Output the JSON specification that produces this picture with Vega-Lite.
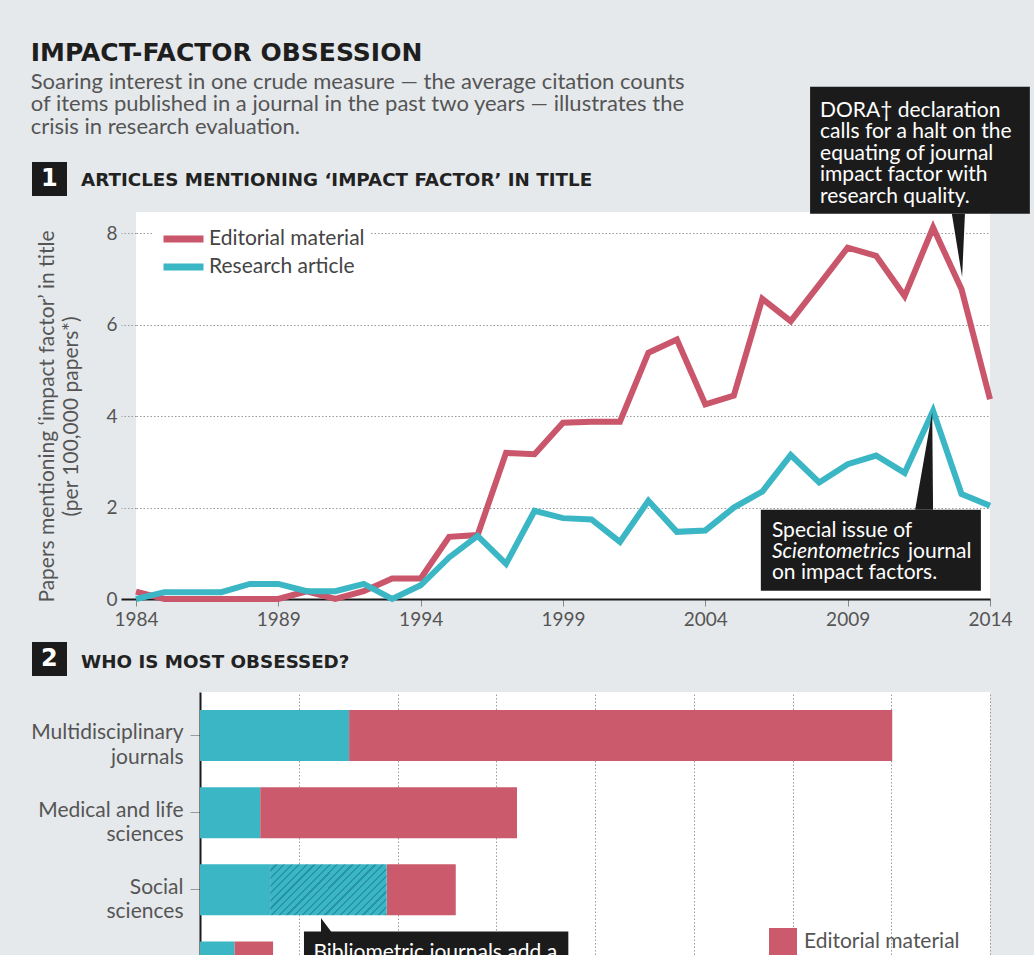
{
  "$schema": "https://vega.github.io/schema/vega-lite/v6.json",
  "background": "#e5e9ec",
  "padding": {"left": 30, "top": 40, "right": 4, "bottom": 0},
  "spacing": 13,
  "title": {
    "text": "IMPACT-FACTOR OBSESSION",
    "subtitle": ["Soaring interest in one crude measure — the average citation counts", "of items published in a journal in the past two years — illustrates the", "crisis in research evaluation."],
    "anchor": "start",
    "frame": "bounds",
    "font": "DejaVu Sans, sans-serif",
    "fontSize": 25,
    "fontWeight": "bold",
    "color": "#1e1e1e",
    "subtitleFont": "Lato",
    "subtitleFontSize": 22,
    "subtitleColor": "#555555",
    "subtitleLineHeight": 22.5,
    "subtitlePadding": 6,
    "offset": -51
  },
  "config": {"font": "Lato", "view": {"stroke": null, "fill": "white"}},
  "resolve": {"scale": {"color": "independent"}, "legend": {"color": "independent"}},
  "vconcat": [
    {
      "width": 854,
      "height": 387,
      "layer": [
        {
          "data": {"values": [
            {"year": 1984, "type": "Editorial material", "value": 0.16},
            {"year": 1985, "type": "Editorial material", "value": 0.0},
            {"year": 1986, "type": "Editorial material", "value": 0.0},
            {"year": 1987, "type": "Editorial material", "value": 0.0},
            {"year": 1988, "type": "Editorial material", "value": 0.0},
            {"year": 1989, "type": "Editorial material", "value": 0.0},
            {"year": 1990, "type": "Editorial material", "value": 0.17},
            {"year": 1991, "type": "Editorial material", "value": 0.0},
            {"year": 1992, "type": "Editorial material", "value": 0.17},
            {"year": 1993, "type": "Editorial material", "value": 0.45},
            {"year": 1994, "type": "Editorial material", "value": 0.45},
            {"year": 1995, "type": "Editorial material", "value": 1.36},
            {"year": 1996, "type": "Editorial material", "value": 1.4},
            {"year": 1997, "type": "Editorial material", "value": 3.2},
            {"year": 1998, "type": "Editorial material", "value": 3.17},
            {"year": 1999, "type": "Editorial material", "value": 3.86},
            {"year": 2000, "type": "Editorial material", "value": 3.88},
            {"year": 2001, "type": "Editorial material", "value": 3.88},
            {"year": 2002, "type": "Editorial material", "value": 5.39},
            {"year": 2003, "type": "Editorial material", "value": 5.68},
            {"year": 2004, "type": "Editorial material", "value": 4.26},
            {"year": 2005, "type": "Editorial material", "value": 4.45},
            {"year": 2006, "type": "Editorial material", "value": 6.57},
            {"year": 2007, "type": "Editorial material", "value": 6.08},
            {"year": 2008, "type": "Editorial material", "value": 6.88},
            {"year": 2009, "type": "Editorial material", "value": 7.69},
            {"year": 2010, "type": "Editorial material", "value": 7.51},
            {"year": 2011, "type": "Editorial material", "value": 6.63},
            {"year": 2012, "type": "Editorial material", "value": 8.13},
            {"year": 2013, "type": "Editorial material", "value": 6.78},
            {"year": 2014, "type": "Editorial material", "value": 4.37},
            {"year": 1984, "type": "Research article", "value": 0.0},
            {"year": 1985, "type": "Research article", "value": 0.15},
            {"year": 1986, "type": "Research article", "value": 0.15},
            {"year": 1987, "type": "Research article", "value": 0.15},
            {"year": 1988, "type": "Research article", "value": 0.33},
            {"year": 1989, "type": "Research article", "value": 0.33},
            {"year": 1990, "type": "Research article", "value": 0.17},
            {"year": 1991, "type": "Research article", "value": 0.17},
            {"year": 1992, "type": "Research article", "value": 0.33},
            {"year": 1993, "type": "Research article", "value": 0.0},
            {"year": 1994, "type": "Research article", "value": 0.3},
            {"year": 1995, "type": "Research article", "value": 0.91},
            {"year": 1996, "type": "Research article", "value": 1.38},
            {"year": 1997, "type": "Research article", "value": 0.77},
            {"year": 1998, "type": "Research article", "value": 1.93},
            {"year": 1999, "type": "Research article", "value": 1.77},
            {"year": 2000, "type": "Research article", "value": 1.74},
            {"year": 2001, "type": "Research article", "value": 1.25},
            {"year": 2002, "type": "Research article", "value": 2.15},
            {"year": 2003, "type": "Research article", "value": 1.47},
            {"year": 2004, "type": "Research article", "value": 1.5},
            {"year": 2005, "type": "Research article", "value": 2.0},
            {"year": 2006, "type": "Research article", "value": 2.35},
            {"year": 2007, "type": "Research article", "value": 3.15},
            {"year": 2008, "type": "Research article", "value": 2.55},
            {"year": 2009, "type": "Research article", "value": 2.95},
            {"year": 2010, "type": "Research article", "value": 3.14},
            {"year": 2011, "type": "Research article", "value": 2.76},
            {"year": 2012, "type": "Research article", "value": 4.12},
            {"year": 2013, "type": "Research article", "value": 2.3},
            {"year": 2014, "type": "Research article", "value": 2.04}
          ]},
          "mark": {"type": "line", "strokeWidth": 6, "strokeJoin": "miter", "strokeMiterLimit": 3},
          "encoding": {
            "x": {
              "field": "year", "type": "quantitative",
              "scale": {"domain": [1984, 2014], "nice": false, "zero": false},
              "axis": {
                "values": [1984, 1989, 1994, 1999, 2004, 2009, 2014],
                "format": "d", "title": null, "grid": false,
                "domainColor": "#1a1a1a", "domainWidth": 2,
                "tickColor": "#888888", "tickSize": 7, "tickWidth": 1,
                "labelFontSize": 19, "labelColor": "#555555", "labelPadding": 4, "labelFlush": false
              }
            },
            "y": {
              "field": "value", "type": "quantitative",
              "scale": {"domain": [0, 8.47], "nice": false},
              "axis": {
                "values": [0, 2, 4, 6, 8],
                "title": ["Papers mentioning ‘impact factor’ in title", "(per 100,000 papers*)"],
                "titleFontSize": 21, "titleFontWeight": "normal", "titleColor": "#555555",
                "titleLineHeight": 24, "titlePadding": 24, "titleY": 204,
                "domain": false, "grid": true, "gridColor": "#9a9a9a", "gridDash": [1.5, 2],
                "gridOpacity": {"condition": {"test": "datum.value === 0", "value": 0}, "value": 1},
                "tickSize": 15,
                "tickColor": {"condition": {"test": "datum.value === 0", "value": "#1a1a1a"}, "value": "#9a9a9a"},
                "tickDash": {"condition": {"test": "datum.value === 0", "value": []}, "value": [1.5, 2]},
                "tickWidth": {"condition": {"test": "datum.value === 0", "value": 2}, "value": 1},
                "labelFontSize": 19, "labelColor": "#555555", "labelPadding": 4
              }
            },
            "color": {
              "field": "type", "type": "nominal",
              "scale": {"domain": ["Editorial material", "Research article"], "range": ["#c9566b", "#3bb6c5"]},
              "legend": {
                "title": null, "orient": "none", "legendX": 18, "legendY": 10, "padding": 6,
                "fillColor": "white", "symbolType": "stroke", "symbolSize": 1600, "symbolStrokeWidth": 7,
                "clipHeight": 22, "rowPadding": 6, "labelOffset": 2, "labelFontSize": 21,
                "labelColor": "#444444", "labelFont": "Lato"
              }
            }
          }
        },
        {
          "data": {"values": [
            {"note": "DORA", "x_start": 2007.68, "x_end": 2015.4, "y_top": 11.21, "y_bottom": 8.43},
            {"note": "Scientometrics", "x_start": 2005.95, "x_end": 2013.68, "y_top": 1.955, "y_bottom": 0.18},
            {"note": "section 1", "x_start": 1980.347, "x_end": 1981.576, "y_top": 9.565, "y_bottom": 8.82},
            {"note": "section 2", "x_start": 1980.347, "x_end": 1981.576, "y_top": -0.941, "y_bottom": -1.685}
          ]},
          "mark": {"type": "rect", "color": "#1b1b1b", "opacity": 1},
          "encoding": {
            "x": {"field": "x_start", "type": "quantitative"},
            "x2": {"field": "x_end"},
            "y": {"field": "y_top", "type": "quantitative"},
            "y2": {"field": "y_bottom"}
          }
        },
        {
          "data": {"values": [
            {"pointer": "DORA", "year": 2012.66, "value": 8.43, "base": 8.43},
            {"pointer": "DORA", "year": 2013.02, "value": 7.05, "base": 8.43},
            {"pointer": "DORA", "year": 2013.12, "value": 8.43, "base": 8.43},
            {"pointer": "Scientometrics", "year": 2011.37, "value": 1.955, "base": 1.955},
            {"pointer": "Scientometrics", "year": 2011.97, "value": 4.09, "base": 1.955},
            {"pointer": "Scientometrics", "year": 2012.0, "value": 1.955, "base": 1.955}
          ]},
          "mark": {"type": "area", "color": "#1b1b1b", "opacity": 1},
          "encoding": {
            "x": {"field": "year", "type": "quantitative"},
            "y": {"field": "value", "type": "quantitative", "stack": null},
            "y2": {"field": "base"},
            "detail": {"field": "pointer"}
          }
        },
        {
          "data": {"values": [
            {"text": "DORA† declaration\ncalls for a halt on the\nequating of journal\nimpact factor with\nresearch quality.", "x": 2008.03, "y": 10.55},
            {"text": "Special issue of", "x": 2006.34, "y": 1.35},
            {"text": "journal", "x": 2011.12, "y": 0.89},
            {"text": "on impact factors.", "x": 2006.34, "y": 0.44}
          ]},
          "mark": {"type": "text", "align": "left", "baseline": "alphabetic", "font": "Lato", "fontSize": 21, "color": "white", "lineBreak": "\n", "lineHeight": 21.5},
          "encoding": {
            "x": {"field": "x", "type": "quantitative"},
            "y": {"field": "y", "type": "quantitative"},
            "text": {"field": "text"}
          }
        },
        {
          "data": {"values": [
            {"text": "Scientometrics", "x": 2006.34, "y": 0.89}
          ]},
          "mark": {"type": "text", "align": "left", "baseline": "alphabetic", "font": "Lato", "fontSize": 21, "fontStyle": "italic", "color": "white"},
          "encoding": {
            "x": {"field": "x", "type": "quantitative"},
            "y": {"field": "y", "type": "quantitative"},
            "text": {"field": "text"}
          }
        },
        {
          "data": {"values": [
            {"text": "1", "x": 1980.96, "y": 9.19},
            {"text": "2", "x": 1980.96, "y": -1.313}
          ]},
          "mark": {"type": "text", "align": "center", "baseline": "middle", "font": "DejaVu Sans, sans-serif", "fontSize": 24, "fontWeight": "bold", "color": "white"},
          "encoding": {
            "x": {"field": "x", "type": "quantitative"},
            "y": {"field": "y", "type": "quantitative"},
            "text": {"field": "text"}
          }
        },
        {
          "data": {"values": [
            {"text": "ARTICLES MENTIONING ‘IMPACT FACTOR’ IN TITLE", "x": 1982.07, "y": 9.14},
            {"text": "WHO IS MOST OBSESSED?", "x": 1982.07, "y": -1.39}
          ]},
          "mark": {"type": "text", "align": "left", "baseline": "middle", "font": "DejaVu Sans, sans-serif", "fontSize": 18.3, "fontWeight": "bold", "color": "#222222"},
          "encoding": {
            "x": {"field": "x", "type": "quantitative"},
            "y": {"field": "y", "type": "quantitative"},
            "text": {"field": "text"}
          }
        }
      ]
    },
    {
      "hconcat": [
        {
          "width": 64,
          "height": 1,
          "view": {"fill": null, "stroke": null},
          "data": {"values": [{"spacer": 0}]},
          "mark": {"type": "point", "opacity": 0},
          "encoding": {}
        },
        {
          "width": 790,
          "height": 318.5,
          "layer": [
            {
              "data": {"name": "shares", "values": [
                {"field": "Multidisciplinary journals", "type": "Research article", "share": 1.51},
                {"field": "Multidisciplinary journals", "type": "Editorial material", "share": 5.5},
                {"field": "Medical and life sciences", "type": "Research article", "share": 0.61},
                {"field": "Medical and life sciences", "type": "Editorial material", "share": 2.6},
                {"field": "Social sciences", "type": "Research article", "share": 0.71},
                {"field": "Social sciences", "type": "Research article (bibliometric journals)", "share": 1.18},
                {"field": "Social sciences", "type": "Editorial material", "share": 0.7},
                {"field": "Physical sciences", "type": "Research article", "share": 0.35},
                {"field": "Physical sciences", "type": "Editorial material", "share": 0.39}
              ]},
              "transform": [
                {"stack": "share", "groupby": ["field"], "as": ["share_start", "share_end"]},
                {"filter": "datum.type !== 'Research article (bibliometric journals)'"}
              ],
              "mark": {"type": "bar"},
              "encoding": {
                "y": {
                  "field": "field", "type": "nominal",
                  "scale": {"domain": ["Multidisciplinary journals", "Medical and life sciences", "Social sciences", "Physical sciences"], "paddingInner": 0.34, "paddingOuter": 0.233},
                  "axis": {
                    "title": null, "domainColor": "#1a1a1a", "domainWidth": 2,
                    "tickColor": "#9a9a9a", "tickSize": 10, "labelPadding": 7,
                    "labelFontSize": 21, "labelColor": "#555555", "labelLineHeight": 24.5, "labelOffset": -2,
                    "labelLimit": 0, "grid": false,
                    "labelExpr": "[slice(datum.label, 0, lastindexof(datum.label, ' ')), slice(datum.label, lastindexof(datum.label, ' ') + 1)]"
                  }
                },
                "x": {
                  "field": "share_start", "type": "quantitative",
                  "scale": {"domain": [0, 8], "nice": false},
                  "axis": {"values": [1, 2, 3, 4, 5, 6, 7, 8], "grid": true, "gridColor": "#9a9a9a", "gridDash": [1.5, 2], "labels": false, "ticks": false, "domain": false, "title": null}
                },
                "x2": {"field": "share_end"},
                "color": {
                  "field": "type", "type": "nominal",
                  "scale": {"domain": ["Editorial material", "Research article"], "range": ["#cc5a6d", "#3bb6c5"]},
                  "legend": {
                    "title": null, "orient": "none", "legendX": 633, "legendY": 236, "padding": 0,
                    "symbolType": "square", "symbolSize": 784, "symbolStrokeWidth": 0, "symbolOpacity": 1,
                    "labelFontSize": 21, "labelColor": "#555555", "labelOffset": 7, "rowPadding": 10, "labelFont": "Lato"
                  }
                }
              }
            },
            {
              "data": {"name": "shares"},
              "transform": [
                {"stack": "share", "groupby": ["field"], "as": ["share_start", "share_end"]},
                {"filter": "datum.type === 'Research article (bibliometric journals)'"}
              ],
              "mark": {
                "type": "bar",
                "fill": {
                  "gradient": "linear", "x1": 0, "y1": 0, "x2": 1.206, "y2": 0.526,
                  "stops": [
                    {"offset": 0, "color": "#3bb6c5"}, {"offset": 0.032, "color": "#3bb6c5"}, {"offset": 0.032, "color": "#2795a6"}, {"offset": 0.0455, "color": "#2795a6"},
                    {"offset": 0.0455, "color": "#3bb6c5"}, {"offset": 0.0775, "color": "#3bb6c5"}, {"offset": 0.0775, "color": "#2795a6"}, {"offset": 0.091, "color": "#2795a6"},
                    {"offset": 0.091, "color": "#3bb6c5"}, {"offset": 0.123, "color": "#3bb6c5"}, {"offset": 0.123, "color": "#2795a6"}, {"offset": 0.1365, "color": "#2795a6"},
                    {"offset": 0.1365, "color": "#3bb6c5"}, {"offset": 0.1685, "color": "#3bb6c5"}, {"offset": 0.1685, "color": "#2795a6"}, {"offset": 0.182, "color": "#2795a6"},
                    {"offset": 0.182, "color": "#3bb6c5"}, {"offset": 0.214, "color": "#3bb6c5"}, {"offset": 0.214, "color": "#2795a6"}, {"offset": 0.2275, "color": "#2795a6"},
                    {"offset": 0.2275, "color": "#3bb6c5"}, {"offset": 0.2595, "color": "#3bb6c5"}, {"offset": 0.2595, "color": "#2795a6"}, {"offset": 0.273, "color": "#2795a6"},
                    {"offset": 0.273, "color": "#3bb6c5"}, {"offset": 0.305, "color": "#3bb6c5"}, {"offset": 0.305, "color": "#2795a6"}, {"offset": 0.3185, "color": "#2795a6"},
                    {"offset": 0.3185, "color": "#3bb6c5"}, {"offset": 0.3505, "color": "#3bb6c5"}, {"offset": 0.3505, "color": "#2795a6"}, {"offset": 0.364, "color": "#2795a6"},
                    {"offset": 0.364, "color": "#3bb6c5"}, {"offset": 0.396, "color": "#3bb6c5"}, {"offset": 0.396, "color": "#2795a6"}, {"offset": 0.4095, "color": "#2795a6"},
                    {"offset": 0.4095, "color": "#3bb6c5"}, {"offset": 0.4415, "color": "#3bb6c5"}, {"offset": 0.4415, "color": "#2795a6"}, {"offset": 0.455, "color": "#2795a6"},
                    {"offset": 0.455, "color": "#3bb6c5"}, {"offset": 0.487, "color": "#3bb6c5"}, {"offset": 0.487, "color": "#2795a6"}, {"offset": 0.5005, "color": "#2795a6"},
                    {"offset": 0.5005, "color": "#3bb6c5"}, {"offset": 0.5325, "color": "#3bb6c5"}, {"offset": 0.5325, "color": "#2795a6"}, {"offset": 0.546, "color": "#2795a6"},
                    {"offset": 0.546, "color": "#3bb6c5"}, {"offset": 0.578, "color": "#3bb6c5"}, {"offset": 0.578, "color": "#2795a6"}, {"offset": 0.5915, "color": "#2795a6"},
                    {"offset": 0.5915, "color": "#3bb6c5"}, {"offset": 0.6235, "color": "#3bb6c5"}, {"offset": 0.6235, "color": "#2795a6"}, {"offset": 0.637, "color": "#2795a6"},
                    {"offset": 0.637, "color": "#3bb6c5"}, {"offset": 0.669, "color": "#3bb6c5"}, {"offset": 0.669, "color": "#2795a6"}, {"offset": 0.6825, "color": "#2795a6"},
                    {"offset": 0.6825, "color": "#3bb6c5"}, {"offset": 0.7145, "color": "#3bb6c5"}, {"offset": 0.7145, "color": "#2795a6"}, {"offset": 0.728, "color": "#2795a6"},
                    {"offset": 0.728, "color": "#3bb6c5"}, {"offset": 0.76, "color": "#3bb6c5"}, {"offset": 0.76, "color": "#2795a6"}, {"offset": 0.7735, "color": "#2795a6"},
                    {"offset": 0.7735, "color": "#3bb6c5"}, {"offset": 0.8055, "color": "#3bb6c5"}, {"offset": 0.8055, "color": "#2795a6"}, {"offset": 0.819, "color": "#2795a6"},
                    {"offset": 0.819, "color": "#3bb6c5"}, {"offset": 0.851, "color": "#3bb6c5"}, {"offset": 0.851, "color": "#2795a6"}, {"offset": 0.8645, "color": "#2795a6"},
                    {"offset": 0.8645, "color": "#3bb6c5"}, {"offset": 0.8965, "color": "#3bb6c5"}, {"offset": 0.8965, "color": "#2795a6"}, {"offset": 0.91, "color": "#2795a6"},
                    {"offset": 0.91, "color": "#3bb6c5"}, {"offset": 0.942, "color": "#3bb6c5"}, {"offset": 0.942, "color": "#2795a6"}, {"offset": 0.9555, "color": "#2795a6"},
                    {"offset": 0.9555, "color": "#3bb6c5"}, {"offset": 0.9875, "color": "#3bb6c5"}, {"offset": 0.9875, "color": "#2795a6"}, {"offset": 1, "color": "#2795a6"}
                  ]
                }
              },
              "encoding": {
                "y": {"field": "field", "type": "nominal"},
                "x": {"field": "share_start", "type": "quantitative"},
                "x2": {"field": "share_end"}
              }
            },
            {
              "data": {"values": [
                {"field": "Physical sciences", "box_start": 1.053, "box_end": 3.73}
              ]},
              "mark": {"type": "bar", "color": "#1b1b1b", "opacity": 1, "yOffset": -10},
              "encoding": {
                "y": {"field": "field", "type": "nominal"},
                "x": {"field": "box_start", "type": "quantitative"},
                "x2": {"field": "box_end"}
              }
            },
            {
              "data": {"values": [
                {"field": "Physical sciences", "tip": 1.225}
              ]},
              "mark": {"type": "point", "shape": "M0,0L0,1L0.75,1Z", "size": 784, "filled": true, "color": "#1b1b1b", "opacity": 1, "yOffset": -49.1},
              "encoding": {
                "y": {"field": "field", "type": "nominal"},
                "x": {"field": "tip", "type": "quantitative"}
              }
            },
            {
              "data": {"values": [
                {"field": "Physical sciences", "pos": 1.149, "text": "Bibliometric journals add a"}
              ]},
              "mark": {"type": "text", "align": "left", "baseline": "middle", "font": "Lato", "fontSize": 21, "color": "white", "yOffset": -14.5},
              "encoding": {
                "y": {"field": "field", "type": "nominal"},
                "x": {"field": "pos", "type": "quantitative"},
                "text": {"field": "text"}
              }
            }
          ]
        }
      ],
      "spacing": 0,
      "bounds": "flush"
    }
  ]
}
